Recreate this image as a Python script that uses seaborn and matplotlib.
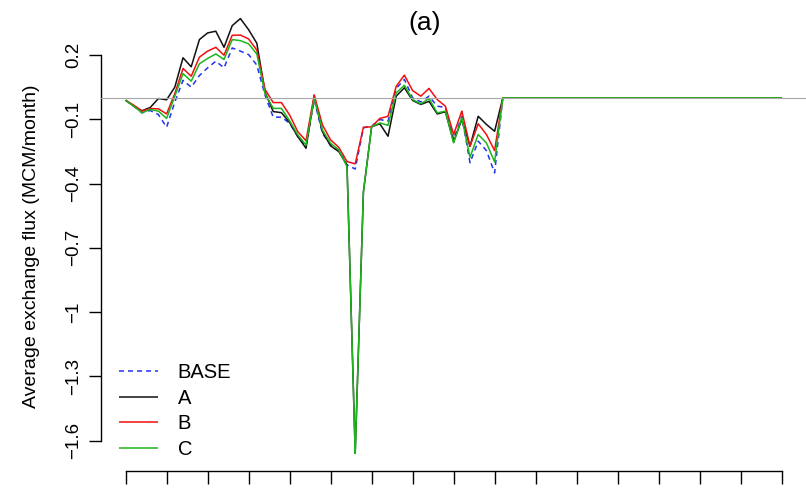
import matplotlib
matplotlib.use("Agg")
import matplotlib.pyplot as plt
import pandas as pd
import seaborn as sns
from matplotlib.lines import Line2D

# Monthly index and axis ticks
months = list(range(81))
x_ticks = list(range(0, 81, 5))
y_ticks = [0.2, -0.1, -0.4, -0.7, -1.0, -1.3, -1.6]
y_tick_labels = ["0.2", "\u22120.1", "\u22120.4", "\u22120.7", "\u22121", "\u22121.3", "\u22121.6"]

scenarios = ["BASE", "A", "B", "C"]

# Average exchange flux per month (MCM/month)
flux_base = [
    -0.011, -0.039, -0.070, -0.059, -0.078, -0.137, -0.020, 0.082, 0.050, 0.104,
    0.140, 0.171, 0.140, 0.233, 0.218, 0.202, 0.153, 0.013, -0.090, -0.090,
    -0.118, -0.181, -0.224, -0.010, -0.165, -0.220, -0.243, -0.313, -0.332, -0.140,
    -0.132, -0.101, -0.109, 0.044, 0.086, 0.000, -0.019, 0.008, -0.039, -0.044,
    -0.194, -0.086, -0.303, -0.202, -0.246, -0.350, 0.000, 0.000, 0.000, 0.000,
    0.000, 0.000, 0.000, 0.000, 0.000, 0.000, 0.000, 0.000, 0.000, 0.000,
    0.000, 0.000, 0.000, 0.000, 0.000, 0.000, 0.000, 0.000, 0.000, 0.000,
    0.000, 0.000, 0.000, 0.000, 0.000, 0.000, 0.000, 0.000, 0.000, 0.000,
    0.000,
]
flux_a = [
    -0.011, -0.039, -0.060, -0.045, -0.003, -0.009, 0.050, 0.187, 0.145, 0.272,
    0.303, 0.311, 0.236, 0.337, 0.370, 0.318, 0.255, 0.027, -0.064, -0.069,
    -0.115, -0.181, -0.235, 0.006, -0.158, -0.224, -0.251, -0.313, -1.659, -0.440,
    -0.135, -0.121, -0.179, 0.008, 0.047, -0.012, -0.031, -0.016, -0.075, -0.065,
    -0.205, -0.101, -0.226, -0.086, -0.124, -0.156, 0.000, 0.000, 0.000, 0.000,
    0.000, 0.000, 0.000, 0.000, 0.000, 0.000, 0.000, 0.000, 0.000, 0.000,
    0.000, 0.000, 0.000, 0.000, 0.000, 0.000, 0.000, 0.000, 0.000, 0.000,
    0.000, 0.000, 0.000, 0.000, 0.000, 0.000, 0.000, 0.000, 0.000, 0.000,
    0.000,
]
flux_b = [
    -0.011, -0.034, -0.062, -0.050, -0.051, -0.075, 0.020, 0.137, 0.101, 0.190,
    0.218, 0.236, 0.199, 0.292, 0.293, 0.275, 0.223, 0.040, -0.022, -0.022,
    -0.080, -0.158, -0.200, 0.014, -0.126, -0.196, -0.231, -0.297, -0.308, -0.137,
    -0.135, -0.096, -0.086, 0.054, 0.106, 0.034, 0.008, 0.044, -0.008, -0.039,
    -0.171, -0.062, -0.226, -0.121, -0.171, -0.246, 0.000, 0.000, 0.000, 0.000,
    0.000, 0.000, 0.000, 0.000, 0.000, 0.000, 0.000, 0.000, 0.000, 0.000,
    0.000, 0.000, 0.000, 0.000, 0.000, 0.000, 0.000, 0.000, 0.000, 0.000,
    0.000, 0.000, 0.000, 0.000, 0.000, 0.000, 0.000, 0.000, 0.000, 0.000,
    0.000,
]
flux_c = [
    -0.011, -0.039, -0.070, -0.054, -0.062, -0.096, 0.008, 0.113, 0.078, 0.159,
    0.184, 0.205, 0.179, 0.272, 0.267, 0.252, 0.205, 0.020, -0.049, -0.049,
    -0.107, -0.173, -0.220, -0.002, -0.150, -0.212, -0.243, -0.321, -1.659, -0.438,
    -0.135, -0.117, -0.128, 0.023, 0.059, -0.008, -0.028, -0.003, -0.070, -0.062,
    -0.210, -0.093, -0.277, -0.171, -0.210, -0.299, 0.000, 0.000, 0.000, 0.000,
    0.000, 0.000, 0.000, 0.000, 0.000, 0.000, 0.000, 0.000, 0.000, 0.000,
    0.000, 0.000, 0.000, 0.000, 0.000, 0.000, 0.000, 0.000, 0.000, 0.000,
    0.000, 0.000, 0.000, 0.000, 0.000, 0.000, 0.000, 0.000, 0.000, 0.000,
    0.000,
]

colors = {"BASE": "#2233EE", "A": "#111111", "B": "#F01010", "C": "#1DB51D"}
dash_styles = {"BASE": (3.3, 2.6), "A": (1, 0), "B": (1, 0), "C": (1, 0)}

df = pd.concat(
    [
        pd.DataFrame({"month": months, "flux": vals, "scenario": name})
        for name, vals in zip(scenarios, [flux_base, flux_a, flux_b, flux_c])
    ],
    ignore_index=True,
)

sns.set_style("white")
plt.rcParams["font.family"] = ["Liberation Sans", "DejaVu Sans"]
plt.rcParams["text.color"] = "black"
plt.rcParams["axes.labelcolor"] = "black"
plt.rcParams["xtick.color"] = "black"
plt.rcParams["ytick.color"] = "black"

W, H = 806, 488
fig = plt.figure(figsize=(W / 100, H / 100), dpi=100)
ax = fig.add_axes([100.6 / W, (H - 471) / H, 706.8 / W, 468 / H])

sns.lineplot(
    data=df, x="month", y="flux", hue="scenario", style="scenario",
    hue_order=scenarios, style_order=scenarios, palette=colors,
    dashes=dash_styles, estimator=None, sort=False, legend=False,
    linewidth=1.1, ax=ax,
)

ax.axhline(0, color="#A8A8A8", linewidth=0.8, zorder=5)

ax.set_xlim(-3.05, -3.05 + 706.8 / 8.2)
ax.set_ylim(0.2 - (471 - 55) / 214.3, 0.2 + (55 - 3) / 214.3)

for side in ("top", "right"):
    ax.spines[side].set_visible(False)
for side in ("left", "bottom"):
    ax.spines[side].set_linewidth(1.0)
    ax.spines[side].set_color("black")
ax.spines["left"].set_bounds(-1.6, 0.2)
ax.spines["bottom"].set_bounds(0, 80)

ax.set_xticks(x_ticks)
ax.set_xticklabels([])
ax.set_yticks(y_ticks)
ax.set_yticklabels(y_tick_labels, rotation=90, va="center", fontsize=13.5,
                   color="black")
ax.tick_params(axis="both", direction="out", length=9, width=1.0, color="black",
               labelcolor="black", left=True, bottom=True)
ax.tick_params(axis="y", pad=4.5)
ax.set_xlabel("")
ax.set_ylabel("")
ax.grid(False)

fig.text(32 / W, 1 - 246 / H, "Average exchange flux (MCM/month)", rotation=90,
         ha="center", va="center", fontsize=14, color="black")
fig.text(425 / W, 1 - 23 / H, "(a)", ha="center", va="center", fontsize=19,
         color="black")

handles = [Line2D([], [], color=colors[s], linewidth=1.1, dashes=dash_styles[s])
           for s in scenarios]
leg = ax.legend(handles, scenarios, loc="upper left",
                bbox_to_anchor=(119.3 / W, 1 - (371 - 8) / H),
                bbox_transform=fig.transFigure, frameon=False, fontsize=14.5,
                handlelength=1.94, handletextpad=0.96, labelspacing=0.33,
                borderpad=0, borderaxespad=0)
for t in leg.get_texts():
    t.set_color("black")

fig.savefig("out.png", dpi=100)
